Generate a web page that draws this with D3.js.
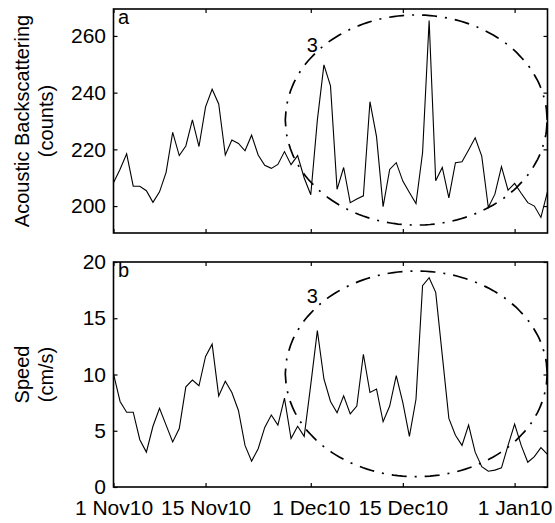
<!DOCTYPE html>
<html>
<head>
<meta charset="utf-8">
<script src="https://cdn.jsdelivr.net/npm/d3@7"></script>
<style>
  body { margin: 0; background: #fff; }
  svg { display: block; font-family: "Liberation Sans", Arial, sans-serif; }
</style>
</head>
<body>
<div id="container"></div>
<script>
/* DATA */
// daily values, 1 Nov 2010 .. 6 Jan 2011
const startDate = new Date(2010, 10, 1)

const backscatter = [208.2, 213, 218.4, 207, 207, 205.4, 201.3, 205, 211.9, 226,
  217.8, 221.2, 230.4, 221, 235, 241.2, 236, 218, 223.3, 222.1,
  219.5, 225, 218, 214.4, 213.3, 214.7, 219.2, 214.6, 217.8, 209.9,
  204, 230.3, 249.8, 242.4, 205.9, 213.6, 201.2, 202.5, 203.6, 236.8,
  224.5, 199.8, 212.9, 215.3, 208.8, 204.8, 200.9, 218.8, 265.4, 208.9,
  213.6, 202.9, 215.3, 215.6, 219.8, 224.1, 217.6, 199.5, 204.2, 213.9,
  205.6, 208, 204.5, 201.2, 200, 196, 205.1]

const speed = [10.06, 7.6, 6.65, 6.65, 4.2, 3.1, 5.4, 7.0, 5.5, 4.0,
  5.2, 8.9, 9.5, 9.0, 11.6, 12.7, 8.1, 9.4, 8.4, 6.8,
  3.7, 2.3, 3.4, 5.3, 6.4, 5.5, 7.9, 4.3, 5.4, 4.5,
  9.1, 13.9, 9.6, 7.6, 6.6, 8.1, 6.5, 7.2, 11.8, 8.4,
  8.7, 5.8, 7.2, 9.9, 7.5, 4.5, 7.8, 17.9, 18.6, 17.3,
  11.7, 6.1, 4.6, 3.7, 5.5, 3.1, 1.8, 1.4, 1.5, 1.7,
  3.7, 5.6, 3.7, 2.2, 2.7, 3.5, 2.9]

const xTickDates = [new Date(2010, 10, 1), new Date(2010, 10, 15), new Date(2010, 11, 1),
  new Date(2010, 11, 15), new Date(2011, 0, 1)]
const xTickLabels = ["1 Nov10", "15 Nov10", "1 Dec10", "15 Dec10", "1 Jan10"]

const yTicksA = [200, 220, 240, 260]
const yTicksB = [0, 5, 10, 15, 20]

// highlighted event "3": centre day offset, half width (days), centre value, half height
const ellipseA = { day: 46.06, halfDays: 19.9, value: 230.35, half: 37.05 }
const ellipseB = { day: 46.06, halfDays: 19.9, value: 10.06, half: 9.14 }

/* CONSTANTS */
const width = 555, height = 523
const left = 113.5, right = 547.5
const panels = [
  { key: "a", top: 9, bottom: 233, domain: [190.5, 269.5], ticks: yTicksA, values: backscatter,
    label: ["Acoustic Backscattering", "(counts)"], ellipse: ellipseA, xLabels: false },
  { key: "b", top: 262, bottom: 487, domain: [0, 20], ticks: yTicksB, values: speed,
    label: ["Speed", "(cm/s)"], ellipse: ellipseB, xLabels: true }
]

const dates = backscatter.map((d, i) => d3.timeDay.offset(startDate, i))

const xScale = d3.scaleTime()
  .domain([startDate, dates[dates.length - 1]])
  .range([left, right])

const svg = d3.select("#container")
  .append("svg")
  .attr("width", width)
  .attr("height", height)

const fontSize = 20
const tickFont = 21

panels.forEach(p => {
  const yScale = d3.scaleLinear().domain(p.domain).range([p.bottom, p.top])
  const g = svg.append("g")

  // AXES (ticks inside, mirrored)
  const yLeft = g.append("g")
    .attr("transform", `translate(${left},0)`)
    .call(d3.axisLeft(yScale).tickValues(p.ticks).tickSize(-4).tickPadding(7.5))
  const yRight = g.append("g")
    .attr("transform", `translate(${right},0)`)
    .call(d3.axisRight(yScale).tickValues(p.ticks).tickSize(-4).tickFormat(""))
  const xBottom = g.append("g")
    .attr("transform", `translate(0,${p.bottom})`)
    .call(d3.axisBottom(xScale).tickValues(xTickDates).tickSize(-4).tickPadding(13.5)
      .tickFormat((d, i) => p.xLabels ? xTickLabels[i] : ""))
  const xTop = g.append("g")
    .attr("transform", `translate(0,${p.top})`)
    .call(d3.axisTop(xScale).tickValues(xTickDates).tickSize(-4).tickFormat(""))

  ;[yLeft, yRight, xBottom, xTop].forEach(a => {
    a.select(".domain").remove()
    a.selectAll("line").attr("stroke", "#000").attr("stroke-width", 1.2)
    a.selectAll("text").attr("font-size", tickFont).attr("fill", "#000")
      .attr("font-family", "Liberation Sans, Arial, sans-serif")
  })

  // FRAME
  g.append("rect")
    .attr("x", left).attr("y", p.top)
    .attr("width", right - left).attr("height", p.bottom - p.top)
    .attr("fill", "none").attr("stroke", "#000").attr("stroke-width", 1.6)

  // LINE
  const line = d3.line()
    .x((d, i) => xScale(dates[i]))
    .y(d => yScale(d))

  g.append("path")
    .datum(p.values)
    .attr("fill", "none")
    .attr("stroke", "#000")
    .attr("stroke-width", 1.1)
    .attr("d", line)

  // ELLIPSE
  const e = p.ellipse
  const angles = d3.range(0, 361, 2)
  const ellLine = d3.line()
    .x(a => xScale(d3.timeHour.offset(startDate, (e.day + e.halfDays * Math.cos(a * Math.PI / 180)) * 24)))
    .y(a => yScale(e.value + e.half * Math.sin(a * Math.PI / 180)))

  g.append("path")
    .datum(angles)
    .attr("fill", "none")
    .attr("stroke", "#000")
    .attr("stroke-width", 1.7)
    .attr("stroke-dasharray", "15,8,2,8")
    .attr("d", ellLine)

  // "3" label
  g.append("text")
    .attr("x", xScale(d3.timeHour.offset(startDate, 29.4 * 24)))
    .attr("y", p.top + (p.key === "a" ? 42.5 : 41))
    .attr("font-size", fontSize)
    .text("3")

  // panel letter
  g.append("text")
    .attr("x", left + 4.5)
    .attr("y", p.top + 14.5)
    .attr("font-size", fontSize)
    .text(p.key)

  // Y LABEL
  const cy = (p.top + p.bottom) / 2
  const lab = g.append("text")
    .attr("transform", `translate(29,${cy}) rotate(-90)`)
    .attr("text-anchor", "middle")
    .attr("font-size", fontSize)
  lab.append("tspan").attr("x", 0).attr("y", 0).text(p.label[0])
  lab.append("tspan").attr("x", 0).attr("y", 23.5).text(p.label[1])
})
</script>
</body>
</html>
